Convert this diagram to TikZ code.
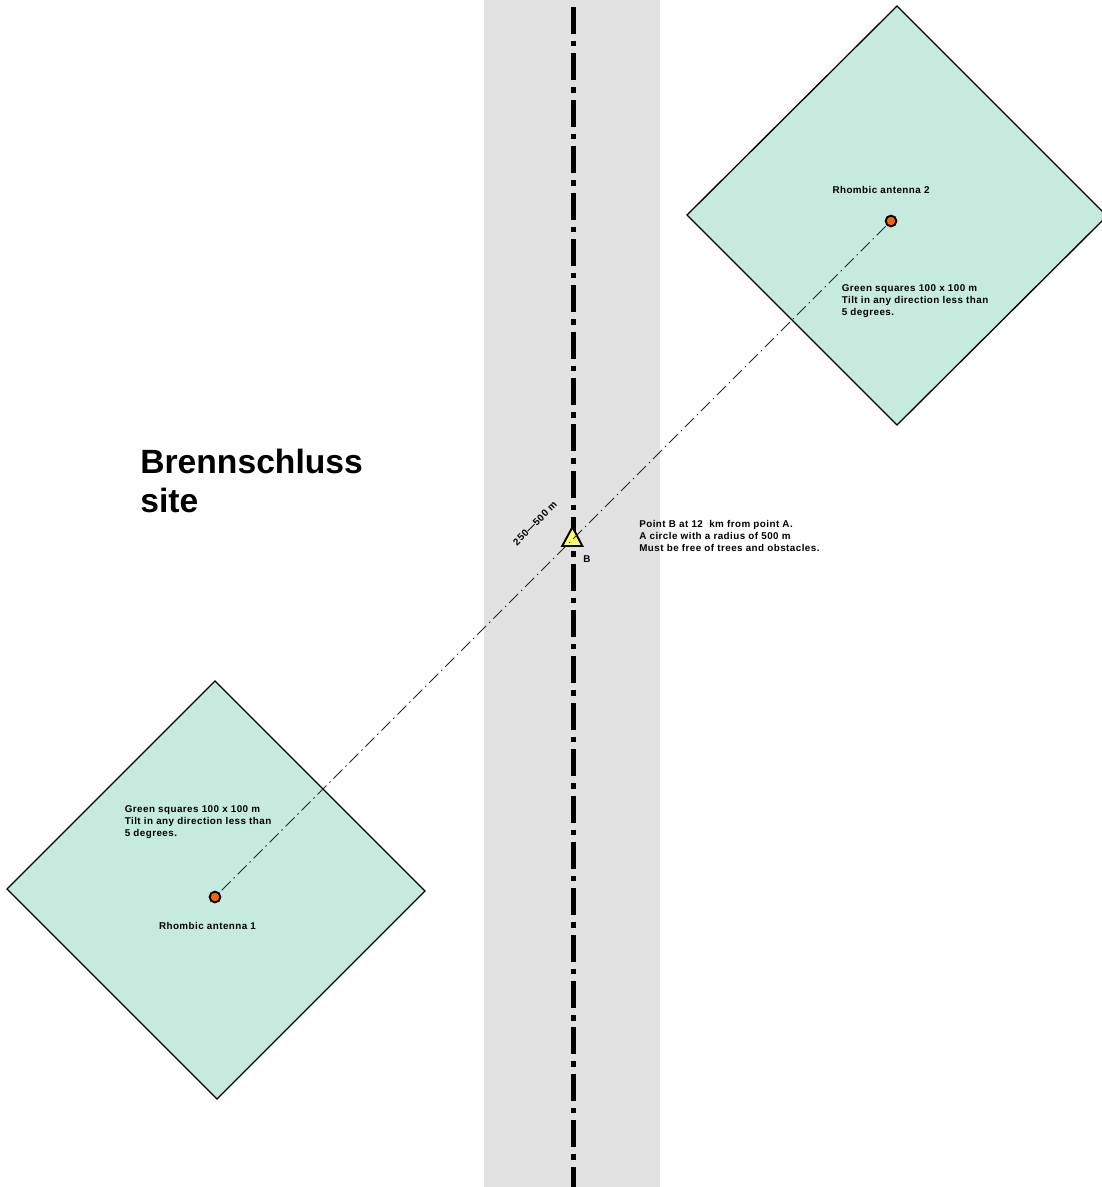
\documentclass[tikz,border=0pt]{standalone}
\usepackage{fontspec}
\setmainfont{Liberation Sans}
\newfontfamily\notefont[LetterSpace=4.5,BoldFont={Liberation Sans Bold}]{Liberation Sans}
\definecolor{squaregreen}{HTML}{C6EBDE}
\definecolor{roadgrey}{HTML}{E2E2E2}
\definecolor{mastorange}{HTML}{FF6600}
\definecolor{pointyellow}{HTML}{FFFF66}
\tikzset{
  antenna/.style={circle,draw=black,fill=mastorange,line width=1.1pt,minimum size=6.1pt,inner sep=0pt},
  note/.style={align=left,anchor=north west,inner sep=0pt,font=\notefont\fontsize{5.6}{6.8}\selectfont\bfseries},
  square/.style={draw=black,fill=squaregreen,line width=0.75pt},
  baseline link/.style={black!85,line width=0.5pt,dash pattern=on 7.2pt off 2.4pt on 0.85pt off 2.41pt,dash phase=11.1pt}
}

\begin{document}
\begin{tikzpicture}[x=0.02cm,y=-0.02cm]
  \useasboundingbox (0,0) rectangle (1102,1187);
  % Road
  \fill[roadgrey] (484,0) rectangle (660,1187);
  \draw[line width=2.85pt,dash pattern=on 15.36pt off 3.98pt on 3.13pt off 3.93pt] (573.5,7) -- (573.5,1187);
  % Squares
  \begin{scope}
    \clip (0,0) rectangle (1102,1187);
    \draw[square] (897,6) -- (1107,216) -- (897,425) -- (687,215) -- cycle;
    \draw[square] (215,681) -- (425,891) -- (217,1099) -- (7,889) -- cycle;
  \end{scope}
  % Point B
  \draw[fill=pointyellow,line width=1.1pt,line join=miter] (572.5,527) -- (582.3,546) -- (562.2,546) -- cycle;
  % Antennas
  \node[antenna] (ant1) at (215,897) {};
  \node[antenna] (ant2) at (891,221) {};
  \draw[baseline link] (ant1) -- (ant2);
  % Labels
  \node[note,anchor=center] (ant1label) at (207.5,925.5) {Rhombic antenna 1};
  \node[note,anchor=center] (ant2label) at (881,189.5) {Rhombic antenna 2};
  \node[note] (text1) at (124.5,805) {Green squares 100 x 100 m\\Tilt in any direction less than\\5 degrees.};
  \node[note] (text2) at (841.5,284) {Green squares 100 x 100 m\\Tilt in any direction less than\\5 degrees.};
  \node[note] (textB) at (639,520) {Point B at 12 \ km from point A.\\A circle with a radius of 500 m\\Must be free of trees and obstacles.};
  \node[note,anchor=center] (labelB) at (587,559.5) {B};
  \node[note,anchor=center,rotate=45] (dist) at (535,523.5) {250—500 m};
  \node[align=left,anchor=north west,inner sep=0pt,font=\fontsize{19.15}{22.2}\selectfont\bfseries] (title) at (140,449) {Brennschluss\\site};
\end{tikzpicture}
\end{document}
